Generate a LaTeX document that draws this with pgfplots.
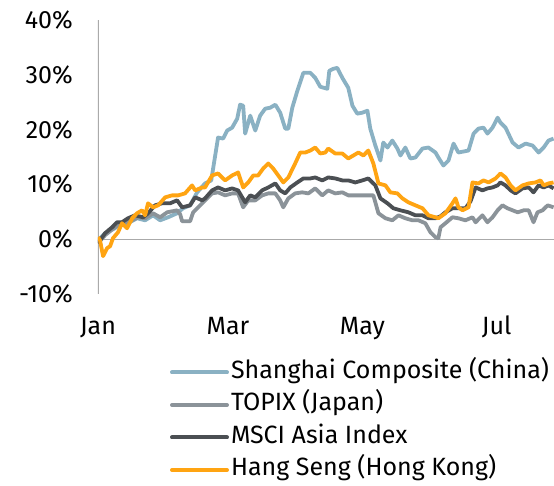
\documentclass[border=0pt]{standalone}
\usepackage{fontspec}
\setmainfont{Fira Sans}
\usepackage{pgfplots}
\pgfplotsset{compat=1.18}
\definecolor{shc}{RGB}{138,177,195}
\definecolor{tpx}{RGB}{139,147,153}
\definecolor{msc}{RGB}{75,79,83}
\definecolor{hsg}{RGB}{255,164,18}
\definecolor{axg}{RGB}{170,170,170}
\newcommand\chf{\fontsize{25}{30}\selectfont}
\begin{document}
\begin{tikzpicture}
\begin{axis}[
  scale only axis, width=456pt, height=274pt,
  xmin=0, xmax=207, ymin=-10, ymax=40,
  axis line style={draw=none}, tick style={draw=none},
  xtick={0,59,120,181}, xticklabels={Jan,Mar,May,Jul},
  ytick={-10,0,10,20,30,40},
  yticklabels={-10\%,0\%,10\%,20\%,30\%,40\%},
  tick label style={font=\chf},
  xticklabel style={anchor=base, inner sep=0pt, yshift=-40pt},
  yticklabel style={anchor=east, inner sep=0pt, xshift=-25pt},
  legend cell align=left,
  legend style={draw=none, fill=none, font=\chf, inner sep=0pt, outer sep=0pt,
    at={(0.1579,-0.2445)}, anchor=north west, row sep=9.5pt, column sep=2pt,
    nodes={inner sep=0pt, text height=17pt, text depth=6pt}},
  legend image code/.code={\draw[#1, line width=4pt, line cap=round] (0pt,0pt) -- (55pt,0pt);},
  every axis plot/.append style={line width=3.8pt, line join=round},
]
\draw[axg, line width=1.2pt] (axis cs:0,-10) -- (axis cs:0,40);
\draw[axg, line width=1.2pt] (axis cs:0,0) -- (axis cs:207,0);
\addplot[shc] coordinates {
(0,-0.18) (3.2,1.09) (7.7,2.0) (10.9,3.09) (13.6,2.91) (17.7,3.82) (21.4,3.45) (25.0,4.36)
(28.2,3.45) (31.8,4.0) (35.9,4.73) (38.6,5.64) (41.8,6.18) (45.0,8.55) (48.6,10.18) (51.4,10.73)
(53.2,15.27) (54.5,18.55) (56.8,18.36) (58.6,19.82) (60.9,20.36) (63.2,22.0) (64.5,24.55) (65.9,24.36)
(66.8,19.27) (69.1,22.55) (71.4,19.82) (73.6,22.55) (75.9,23.82) (78.2,24.0) (80.5,24.55) (82.7,23.09)
(85.0,20.18) (86.4,20.18) (88.2,24.0) (90.5,27.09) (93.2,30.36) (96.4,30.36) (98.6,29.45) (100.9,27.82)
(104.1,27.45) (105.0,30.73) (106.8,31.09) (108.6,31.27) (110.9,29.45) (113.6,27.64) (115.5,24.36) (117.7,22.91)
(120.0,23.09) (122.3,23.45) (123.6,20.18) (125.9,17.09) (128.2,14.36) (129.5,17.64) (131.4,16.73) (133.6,18.0)
(135.9,16.55) (137.3,15.27) (139.5,16.73) (141.8,14.73) (144.1,14.91) (147.3,16.55) (150.0,16.73) (153.2,15.82)
(154.5,14.91) (156.8,13.45) (159.1,14.36) (161.4,17.45) (163.6,15.82) (168.2,16.18) (170.5,19.27) (172.7,20.18)
(175.0,20.36) (176.8,19.27) (179.1,20.36) (181.4,22.18) (182.7,21.27) (185.0,20.36) (188.2,17.64) (190.9,16.73)
(194.1,17.45) (197.3,17.09) (200.0,15.82) (202.3,16.73) (204.5,18.0) (206.8,18.36)
};
\addlegendentry{Shanghai Composite (China)}
\addplot[tpx] coordinates {
(0,-0.73) (3.2,0.73) (7.7,2.18) (10.9,2.91) (13.6,3.09) (18.2,4.0) (21.4,3.82) (25.0,4.73)
(28.2,4.0) (31.4,4.91) (35.9,5.27) (37.3,4.55) (38.2,3.27) (41.8,3.27) (43.2,4.91) (45.5,5.82)
(48.6,7.09) (51.8,8.36) (54.5,8.55) (57.7,8.0) (60.9,8.36) (63.6,8.36) (65.9,5.82) (68.2,7.09)
(71.4,7.09) (74.5,8.0) (77.3,8.36) (80.5,8.36) (82.7,7.09) (84.1,5.82) (86.4,7.45) (89.5,8.36)
(92.7,8.55) (95.5,8.36) (98.6,9.27) (101.8,8.0) (104.5,8.91) (107.7,8.36) (110.9,8.55) (113.6,8.0)
(116.8,8.0) (125.0,8.0) (127.3,4.73) (130.5,3.82) (133.6,3.45) (136.4,4.36) (139.5,3.82) (142.7,3.45)
(145.5,3.45) (148.6,2.91) (150.9,1.27) (153.2,0.36) (154.5,0.18) (155.5,2.18) (157.7,2.91) (160.9,4.0)
(163.6,3.82) (166.8,3.45) (170.0,4.0) (171.4,3.09) (174.5,4.36) (176.8,3.09) (179.1,4.0) (181.4,5.27)
(183.6,6.18) (185.9,5.64) (188.2,5.27) (190.5,4.91) (193.2,5.27) (195.5,5.27) (197.7,3.09) (199.5,4.91)
(201.8,5.27) (204.1,6.18) (206.8,5.82)
};
\addlegendentry{TOPIX (Japan)}
\addplot[msc] coordinates {
(0,-0.73) (3.2,1.09) (6.4,2.18) (8.6,3.09) (10.9,3.09) (13.6,3.82) (16.8,4.36) (20.5,4.0)
(22.7,4.73) (25.9,6.18) (29.1,6.55) (32.7,6.55) (35.9,7.09) (38.2,5.82) (41.8,6.18) (44.1,7.64)
(47.3,7.09) (48.6,7.45) (51.8,8.91) (54.5,9.45) (57.7,8.91) (60.9,9.27) (63.6,8.91) (66.8,6.73)
(69.1,8.0) (71.4,7.64) (74.5,8.91) (77.3,9.45) (80.5,10.18) (82.7,8.91) (85.0,8.36) (87.3,9.45)
(90.5,10.36) (93.2,11.09) (96.4,11.09) (98.6,11.27) (101.8,10.73) (104.5,11.27) (107.7,11.09) (110.9,10.73)
(113.6,10.73) (116.8,10.36) (120.0,10.73) (122.7,11.09) (125.9,9.82) (128.2,7.45) (131.4,6.55) (134.1,5.64)
(137.3,5.27) (140.9,4.91) (144.1,4.36) (147.3,4.36) (150.0,3.82) (153.2,3.82) (155.5,4.18) (157.7,4.91)
(160.9,5.64) (163.6,5.64) (166.8,5.64) (169.1,6.91) (171.4,9.45) (174.5,8.91) (176.8,9.27) (179.1,9.45)
(181.4,9.82) (182.7,10.36) (185.0,9.82) (187.3,8.91) (189.5,8.36) (192.7,9.27) (195.5,9.45) (197.7,8.55)
(200.0,9.82) (202.3,9.45) (204.5,9.82) (206.8,9.27)
};
\addlegendentry{MSCI Asia Index}
\addplot[hsg] coordinates {
(0,0.36) (0.9,-0.18) (2.3,-3.09) (4.1,-1.64) (5.5,-1.27) (6.8,0.18) (9.1,1.27) (10.9,2.91)
(13.2,2.0) (15.5,3.82) (17.7,4.73) (20.0,5.27) (21.4,4.36) (22.7,6.55) (25.0,5.82) (27.3,6.18)
(30.5,7.64) (33.6,8.0) (36.4,8.0) (39.5,8.36) (42.7,9.82) (44.1,8.91) (47.3,9.45) (48.6,9.45)
(51.8,11.64) (54.5,12.0) (57.7,10.73) (60.9,11.64) (63.6,12.18) (65.9,9.45) (68.2,10.36) (70.5,11.64)
(72.7,11.64) (75.0,12.91) (77.3,13.82) (79.5,12.91) (81.8,11.64) (84.1,10.36) (86.4,11.27) (89.5,13.82)
(91.8,15.82) (94.1,15.82) (96.4,16.18) (98.6,16.73) (100.9,15.64) (103.2,15.82) (104.5,16.55) (107.7,15.64)
(110.9,15.64) (113.6,14.73) (115.9,15.27) (118.2,15.82) (120.5,15.27) (122.7,16.18) (125.0,13.82) (127.3,10.18)
(130.5,9.82) (132.7,8.55) (135.9,8.36) (138.2,7.45) (140.9,6.73) (144.1,6.18) (147.3,5.64) (150.0,4.36)
(153.2,4.0) (154.5,3.82) (157.7,4.73) (160.9,6.55) (162.3,7.45) (163.6,5.82) (165.5,5.27) (168.2,5.82)
(170.0,10.36) (172.7,10.18) (175.0,10.73) (177.3,10.36) (180.5,11.09) (182.7,12.0) (185.0,11.27) (187.3,9.82)
(189.5,8.91) (192.7,9.82) (195.5,10.18) (198.6,10.36) (200.9,10.73) (202.3,9.82) (204.5,10.18) (206.8,10.36)
};
\addlegendentry{Hang Seng (Hong Kong)}
\end{axis}
\pgfresetboundingbox
\path[use as bounding box] (-98pt,-191pt) rectangle (456pt,294pt);
\end{tikzpicture}
\end{document}
